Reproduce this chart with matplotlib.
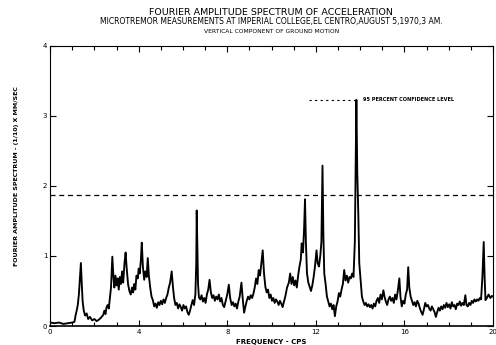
import matplotlib.pyplot as plt
import numpy as np

# frequency (cps) and amplitude
freq = [
    0.0, 0.2, 0.4, 0.6, 0.8, 1.0, 1.1, 1.15, 1.2, 1.25, 1.3, 1.35, 1.39, 1.43, 1.47, 1.52,
    1.58, 1.65, 1.72, 1.8, 1.9, 2.0, 2.1, 2.2, 2.3, 2.4, 2.45, 2.5, 2.55, 2.6, 2.65, 2.7,
    2.75, 2.81, 2.86, 2.9, 2.95, 3.0, 3.05, 3.1, 3.15, 3.2, 3.25, 3.3, 3.36, 3.41, 3.46, 3.52,
    3.58, 3.64, 3.7, 3.75, 3.8, 3.85, 3.9, 3.96, 4.0, 4.05, 4.1, 4.14, 4.19, 4.25, 4.3, 4.36,
    4.41, 4.46, 4.52, 4.58, 4.64, 4.7, 4.76, 4.82, 4.88, 4.94, 5.0, 5.06, 5.12, 5.18, 5.24, 5.3,
    5.36, 5.42, 5.49, 5.55, 5.6, 5.66, 5.72, 5.78, 5.84, 5.9, 5.96, 6.02, 6.08, 6.14, 6.2, 6.26,
    6.32, 6.38, 6.44, 6.5, 6.56, 6.6, 6.62, 6.65, 6.68, 6.72, 6.78, 6.84, 6.9, 6.96, 7.02, 7.08,
    7.14, 7.2, 7.26, 7.32, 7.38, 7.44, 7.5, 7.56, 7.62, 7.68, 7.74, 7.8, 7.86, 7.92, 8.0, 8.07,
    8.13, 8.2, 8.26, 8.32, 8.38, 8.44, 8.5, 8.56, 8.64, 8.7, 8.76, 8.82, 8.88, 8.94, 9.0, 9.06,
    9.12, 9.18, 9.24, 9.3, 9.36, 9.42, 9.48, 9.54, 9.6, 9.66, 9.72, 9.78, 9.84, 9.9, 9.96, 10.02,
    10.08, 10.14, 10.2, 10.26, 10.32, 10.38, 10.44, 10.5, 10.56, 10.62, 10.7, 10.78, 10.84, 10.9, 10.96, 11.02,
    11.08, 11.14, 11.2, 11.26, 11.32, 11.36, 11.42, 11.47, 11.51, 11.55, 11.6, 11.66, 11.72, 11.78, 11.84, 11.9,
    11.96, 12.03, 12.08, 12.14, 12.2, 12.25, 12.3, 12.34, 12.38, 12.44, 12.5, 12.56, 12.62, 12.68, 12.74, 12.8,
    12.86, 12.92, 12.98, 13.04, 13.1, 13.16, 13.22, 13.28, 13.34, 13.4, 13.46, 13.52, 13.58, 13.64, 13.7, 13.76,
    13.8, 13.83, 13.87, 13.92, 13.96, 14.02, 14.08, 14.14, 14.2, 14.26, 14.32, 14.38, 14.44, 14.5, 14.56, 14.62,
    14.68, 14.74, 14.8, 14.86, 14.92, 14.98, 15.05, 15.1, 15.16, 15.22, 15.28, 15.34, 15.4, 15.46, 15.52, 15.58,
    15.64, 15.7, 15.77, 15.82, 15.88, 15.94, 16.0, 16.06, 16.12, 16.17, 16.22, 16.28, 16.34, 16.4, 16.46, 16.52,
    16.58, 16.64, 16.7, 16.76, 16.82, 16.88, 16.94, 17.0, 17.06, 17.12, 17.18, 17.24, 17.3, 17.36, 17.42, 17.48,
    17.54, 17.6, 17.66, 17.72, 17.78, 17.84, 17.9, 17.96, 18.02, 18.08, 18.14, 18.2, 18.26, 18.32, 18.38, 18.44,
    18.5, 18.56, 18.62, 18.68, 18.75, 18.8, 18.86, 18.92, 18.98, 19.04, 19.1, 19.16, 19.22, 19.28, 19.34, 19.4,
    19.46, 19.52, 19.58, 19.62, 19.66, 19.72, 19.8, 19.88, 19.95, 20.0,
]
amp = [
    0.05, 0.04, 0.05, 0.03, 0.04, 0.05, 0.06, 0.15, 0.22, 0.30, 0.45, 0.70, 0.90, 0.60, 0.35, 0.22,
    0.15, 0.18, 0.10, 0.13, 0.08, 0.10, 0.07, 0.09, 0.12, 0.16, 0.22, 0.17, 0.27, 0.30, 0.25, 0.40,
    0.55, 0.99, 0.70, 0.55, 0.72, 0.58, 0.68, 0.52, 0.70, 0.60, 0.78, 0.62, 0.90, 1.05, 0.82, 0.60,
    0.50, 0.45, 0.55, 0.48, 0.60, 0.52, 0.72, 0.68, 0.82, 0.75, 0.95, 1.19, 0.85, 0.66, 0.78, 0.70,
    0.97, 0.72, 0.55, 0.42, 0.37, 0.28, 0.32, 0.26, 0.34, 0.30, 0.36, 0.31, 0.38, 0.33, 0.40, 0.45,
    0.55, 0.62, 0.78, 0.55, 0.40, 0.30, 0.33, 0.25, 0.31, 0.27, 0.22, 0.30, 0.25, 0.28, 0.20, 0.16,
    0.22, 0.30, 0.37, 0.30, 0.45, 0.90, 1.65, 1.10, 0.60, 0.41, 0.38, 0.44, 0.35, 0.40, 0.33, 0.45,
    0.52, 0.66, 0.48, 0.40, 0.44, 0.36, 0.42, 0.38, 0.45, 0.35, 0.40, 0.30, 0.27, 0.35, 0.45, 0.59,
    0.40, 0.30, 0.34, 0.28, 0.32, 0.25, 0.35, 0.42, 0.62, 0.38, 0.19, 0.28, 0.36, 0.42, 0.38, 0.44,
    0.40, 0.46, 0.55, 0.68, 0.60, 0.80, 0.72, 0.90, 1.08, 0.75, 0.56, 0.48, 0.52, 0.40, 0.45, 0.36,
    0.40, 0.33, 0.38, 0.35, 0.30, 0.36, 0.32, 0.27, 0.35, 0.42, 0.55, 0.62, 0.75, 0.60, 0.70, 0.58,
    0.65, 0.55, 0.72, 0.85, 0.95, 1.18, 1.05, 1.40, 1.81, 1.20, 0.75, 0.62, 0.56, 0.50, 0.58, 0.70,
    0.85, 1.08, 0.90, 0.85, 1.00, 1.20, 2.29, 1.30, 0.75, 0.60, 0.42, 0.35, 0.28, 0.32, 0.24, 0.30,
    0.14, 0.28, 0.35, 0.47, 0.42, 0.52, 0.60, 0.80, 0.65, 0.72, 0.62, 0.70, 0.68, 0.75, 0.70, 1.20,
    2.40, 3.23, 2.20, 1.56, 0.90, 0.65, 0.42, 0.35, 0.30, 0.33, 0.28, 0.31, 0.27, 0.30, 0.25, 0.32,
    0.28, 0.36, 0.40, 0.33, 0.45, 0.38, 0.51, 0.42, 0.35, 0.30, 0.38, 0.42, 0.36, 0.40, 0.33, 0.45,
    0.38, 0.50, 0.68, 0.42, 0.28, 0.36, 0.32, 0.45, 0.52, 0.84, 0.55, 0.42, 0.36, 0.30, 0.34, 0.28,
    0.36, 0.32, 0.25, 0.20, 0.16, 0.24, 0.33, 0.28, 0.30, 0.25, 0.22, 0.28, 0.24, 0.20, 0.13, 0.20,
    0.26, 0.22, 0.28, 0.24, 0.30, 0.26, 0.33, 0.27, 0.31, 0.25, 0.34, 0.28, 0.30, 0.24, 0.32, 0.30,
    0.35, 0.29, 0.33, 0.30, 0.44, 0.30, 0.28, 0.33, 0.30, 0.36, 0.33, 0.38, 0.35, 0.38, 0.36, 0.40,
    0.38, 0.70, 1.20, 0.70, 0.37, 0.40, 0.45, 0.40, 0.43, 0.42,
]
confidence = 1.87

x_ticks = [0, 4, 8, 12, 16, 20]
y_ticks = [0, 1, 2, 3, 4]

fig = plt.figure(figsize=(4.96, 3.45), dpi=100)
ax = fig.add_axes([0.101, 0.055, 0.893, 0.812])

ax.plot(freq, amp, color='black', lw=1.35)
ax.axhline(confidence, color='black', lw=0.9, ls=(0, (4, 3)))

# legend
ax.plot([11.7, 13.9], [3.23, 3.23], color='black', lw=0.8, ls=(0, (2, 3)))
ax.text(14.15, 3.23, '95 PERCENT CONFIDENCE LEVEL', fontsize=3.6, fontweight='bold',
        va='center', ha='left')

ax.set_xlim(0, 20)
ax.set_ylim(0, 4)
ax.set_xticks(x_ticks)
ax.set_xticks(np.arange(0, 21, 1), minor=True)
ax.set_yticks(y_ticks)
ax.tick_params(axis='both', which='both', direction='in', top=True, right=True,
               labelsize=5, width=0.8, pad=2)
ax.tick_params(which='major', length=4)
ax.tick_params(which='minor', length=3)
for s in ax.spines.values():
    s.set_linewidth(0.8)
ax.spines['bottom'].set_linewidth(1.2)

ax.set_xlabel('FREQUENCY - CPS', fontsize=5, fontweight='bold', labelpad=3)
fig.text(0.033, 0.49, 'FOURIER AMPLITUDE SPECTRUM - (1/10) X MM/SEC', fontsize=4.5,
         fontweight='bold', rotation=90, ha='center', va='center')

fig.text(0.546, 0.965, 'FOURIER AMPLITUDE SPECTRUM OF ACCELERATION', fontsize=6.8,
         ha='center', va='center')
fig.text(0.548, 0.937, 'MICROTREMOR MEASUREMENTS AT IMPERIAL COLLEGE,EL CENTRO,AUGUST 5,1970,3 AM.',
         fontsize=5.5, ha='center', va='center')
fig.text(0.548, 0.910, 'VERTICAL COMPONENT OF GROUND MOTION', fontsize=4.3,
         ha='center', va='center')

fig.savefig('out.png', dpi=100)
